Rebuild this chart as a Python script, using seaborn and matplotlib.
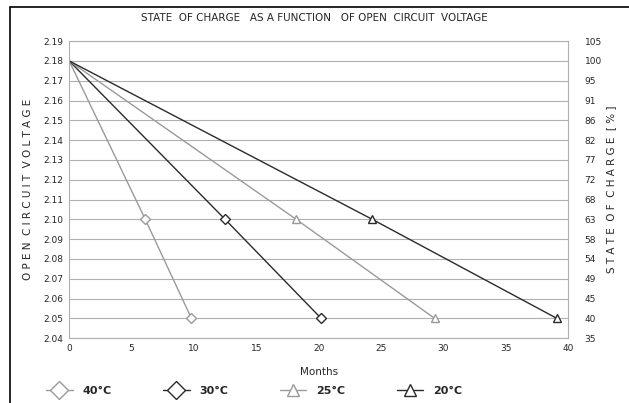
import numpy as np
import pandas as pd
import matplotlib
matplotlib.use("Agg")
import matplotlib.pyplot as plt
import seaborn as sns
from matplotlib.lines import Line2D
from matplotlib.patches import Rectangle

months_40 = [0, 6.1, 9.8]
months_30 = [0, 12.5, 20.2]
months_25 = [0, 18.2, 29.3]
months_20 = [0, 24.3, 39.1]
voltage = [2.18, 2.10, 2.05]

labels = ["40°C", "30°C", "25°C", "20°C"]
colors = ["#9a9a9a", "#2b2b2b", "#9a9a9a", "#2b2b2b"]
markers = ["D", "D", "^", "^"]

volt_ticks = [2.19, 2.18, 2.17, 2.16, 2.15, 2.14, 2.13, 2.12, 2.11, 2.10,
              2.09, 2.08, 2.07, 2.06, 2.05, 2.04]
soc_labels = [105, 100, 95, 91, 86, 82, 77, 72, 68, 63, 58, 54, 49, 45, 40, 35]
month_ticks = [0, 5, 10, 15, 20, 25, 30, 35, 40]

sns.set_style("white")
plt.rcParams['font.family'] = ['DejaVu Sans']

fig = plt.figure(figsize=(6.29, 4.03), dpi=100)
ax = fig.add_axes([0.110, 0.161, 0.793, 0.737])

series = [months_40, months_30, months_25, months_20]
for m, lab, c, mk in zip(series, labels, colors, markers):
    sns.lineplot(x=m, y=voltage, ax=ax, color=c, lw=1.0, marker=mk,
                 markevery=[1, 2], markersize=6 if mk == "^" else 5,
                 markerfacecolor="white", markeredgecolor=c, markeredgewidth=1.0,
                 label=lab, legend=False, sort=False)

ax.set_xlim(0, 40)
ax.set_ylim(2.04, 2.19)
ax.set_yticks(volt_ticks)
ax.set_yticklabels([f"{v:.2f}" for v in volt_ticks], fontsize=6.5)
ax.set_xticks(month_ticks)
ax.set_xticklabels([str(t) for t in month_ticks], fontsize=6.5)
ax.grid(axis="y", color="#b0b0b0", lw=0.8)
ax.tick_params(length=0, pad=4)
for s in ax.spines.values():
    s.set_color("#b0b0b0")
    s.set_linewidth(0.8)

ax.set_xlabel("Months", fontsize=7.5, labelpad=10)
ax.set_ylabel("O P E N  C I R C U I T  V O L T A G E", fontsize=7.5,
              fontweight="medium", labelpad=8)

ax2 = ax.twinx()
ax2.set_ylim(ax.get_ylim())
ax2.set_yticks(volt_ticks)
ax2.set_yticklabels([str(v) for v in soc_labels], fontsize=6.5)
ax2.tick_params(length=0, pad=12)
for s in ax2.spines.values():
    s.set_visible(False)
ax2.set_ylabel("S T A T E  O F  C H A R G E  [ % ]", fontsize=7.5,
               fontweight="medium", labelpad=3)

fig.text(0.5, 0.955, "STATE  OF CHARGE   AS A FUNCTION   OF OPEN  CIRCUIT  VOLTAGE",
         ha="center", va="center", fontsize=7.5,
         family=["Liberation Sans Narrow", "DejaVu Sans"])

handles = [Line2D([0], [0], color=c, lw=1.0, marker=mk, markersize=9,
                  markerfacecolor="white", markeredgecolor=c)
           for c, mk in zip(colors, markers)]
leg = fig.legend(handles, labels, loc="center left", bbox_to_anchor=(46 / 629, 0.030),
                 ncol=4, frameon=False, handlelength=2.4, handletextpad=0.9,
                 columnspacing=4.6, borderpad=0, borderaxespad=0,
                 prop={"weight": "bold", "size": 8})

fig.patches.append(Rectangle((10 / 629, -0.1), 1.2, 1.1 - 7 / 403,
                             transform=fig.transFigure, fill=False,
                             edgecolor="black", lw=1.2))

fig.savefig("out.png", dpi=100)
